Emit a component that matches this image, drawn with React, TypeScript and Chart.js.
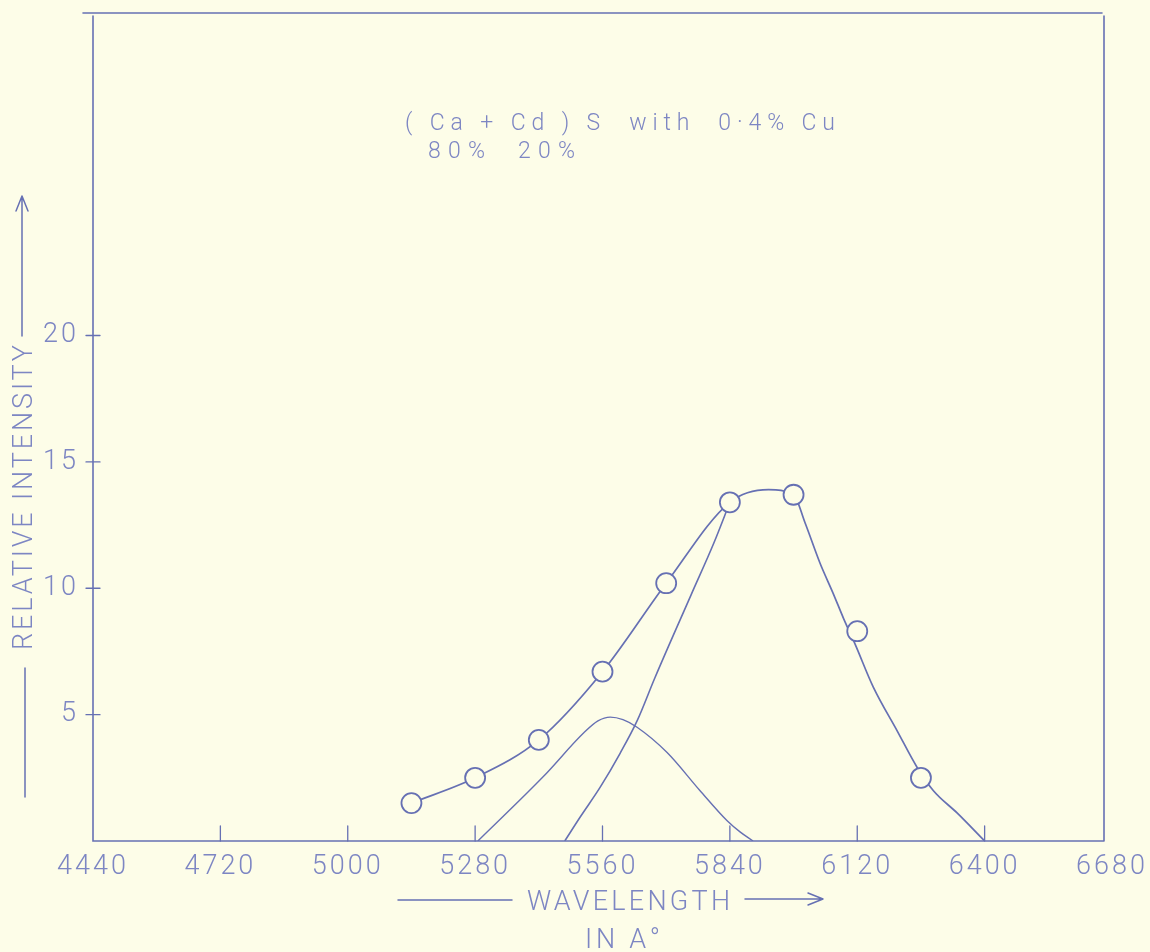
import { useEffect, useRef } from 'react';
import { Chart, registerables } from 'chart.js';

Chart.register(...registerables);

// ---- data ----
const xTickValues = [4440, 4720, 5000, 5280, 5560, 5840, 6120, 6400, 6680];
const yTickValues = [5, 10, 15, 20];

const measuredWavelength = [5140, 5280, 5420, 5560, 5700, 5840, 5980, 6120, 6260];
const measuredIntensity = [1.5, 2.5, 4.0, 6.7, 10.2, 13.4, 13.7, 8.3, 2.5];

const envelopeWavelength = [5140, 5280, 5420, 5560, 5700, 5840, 5925, 5980, 6005, 6038, 6067, 6090, 6115, 6155, 6208, 6252, 6287, 6340, 6400];
const envelopeIntensity = [1.5, 2.5, 4.0, 6.7, 10.2, 13.4, 13.9, 13.7, 12.6, 11.0, 9.8, 8.8, 7.8, 6.1, 4.35, 2.9, 2.0, 1.1, 0];

const bandAWavelength = [5286, 5430, 5520, 5550, 5577, 5605, 5636, 5702, 5774, 5834, 5863, 5891];
const bandAIntensity = [0, 2.55, 4.3, 4.75, 4.9, 4.8, 4.5, 3.5, 2.0, 0.8, 0.35, 0];

const bandBWavelength = [5477, 5511, 5555, 5599, 5636, 5675, 5755, 5805, 5840];
const bandBIntensity = [0, 0.95, 2.13, 3.48, 4.75, 6.45, 9.75, 11.8, 13.4];

const titleLine1 = '( Ca + Cd ) S  with  0·4% Cu';
const titleLine2 = '80%  20%';
const yTitle = 'RELATIVE INTENSITY';
const xTitle = 'WAVELENGTH';
const xUnit = 'IN A°';

// ---- styles ----
const paper = '#fdfde8';
const ink = '#6670b3';
const inkLight = '#7d86c3';
const FONT = 'Roboto, "DejaVu Sans", sans-serif';

const pts = (xs: number[], ys: number[]) => xs.map((x, i) => ({ x, y: ys[i] }));

function fitText(ctx: CanvasRenderingContext2D, text: string, x: number, y: number, width: number) {
  (ctx as any).letterSpacing = '0px';
  const w = ctx.measureText(text).width;
  const n = Array.from(text).length;
  const ls = n > 1 ? (width - w) / (n - 1) : 0;
  (ctx as any).letterSpacing = `${ls}px`;
  ctx.textAlign = 'left';
  ctx.fillText(text, x, y);
}

const decor = {
  id: 'decor',
  beforeDraw(chart: any) {
    const { ctx, width, height } = chart;
    ctx.save();
    ctx.fillStyle = paper;
    ctx.fillRect(0, 0, width, height);
    ctx.restore();
    ctx.letterSpacing = '3px';
  },
  afterDraw(chart: any) {
    const { ctx, chartArea } = chart;
    const { left, right, top, bottom } = chartArea;
    const xs = chart.scales.x;
    const ys = chart.scales.y;
    ctx.save();
    ctx.strokeStyle = ink;
    ctx.lineWidth = 1.6;
    ctx.lineCap = 'round';
    // frame
    ctx.beginPath();
    ctx.moveTo(left - 10, top + 1);
    ctx.lineTo(right - 10, top + 1);
    ctx.moveTo(right - 8, top + 4);
    ctx.lineTo(right - 8, bottom);
    ctx.moveTo(left, top + 4);
    ctx.lineTo(left, bottom);
    ctx.lineTo(right - 8, bottom);
    ctx.stroke();
    // ticks
    ctx.lineWidth = 1.3;
    ctx.beginPath();
    xTickValues.slice(1, -1).forEach((v) => {
      const px = xs.getPixelForValue(v);
      ctx.moveTo(px, bottom);
      ctx.lineTo(px, bottom - 15);
    });
    yTickValues.forEach((v) => {
      const py = ys.getPixelForValue(v);
      ctx.moveTo(left - 7, py);
      ctx.lineTo(left + 7, py);
    });
    ctx.stroke();

    // titles
    ctx.fillStyle = inkLight;
    ctx.textBaseline = 'alphabetic';
    ctx.font = `300 23px ${FONT}`;
    fitText(ctx, titleLine1, 405, 130, 430);
    fitText(ctx, titleLine2, 428, 158, 147);

    ctx.font = `300 27px ${FONT}`;
    fitText(ctx, xTitle, 527, 910, 203);
    fitText(ctx, xUnit, 585, 948, 75);

    // x title arrows
    ctx.strokeStyle = ink;
    ctx.lineWidth = 1.5;
    ctx.beginPath();
    ctx.moveTo(398, 900);
    ctx.lineTo(512, 900);
    ctx.moveTo(745, 899);
    ctx.lineTo(823, 899);
    ctx.moveTo(823, 899);
    ctx.lineTo(808, 893);
    ctx.moveTo(823, 899);
    ctx.lineTo(808, 905);
    ctx.stroke();

    // y title
    ctx.save();
    ctx.translate(32, 650);
    ctx.rotate(-Math.PI / 2);
    fitText(ctx, yTitle, 0, 0, 305);
    ctx.restore();
    ctx.beginPath();
    ctx.moveTo(25, 797);
    ctx.lineTo(25, 668);
    ctx.moveTo(22, 336);
    ctx.lineTo(22, 196);
    ctx.moveTo(22, 196);
    ctx.lineTo(16, 211);
    ctx.moveTo(22, 196);
    ctx.lineTo(28, 211);
    ctx.stroke();
    ctx.restore();
  },
};

export default function App() {
  const ref = useRef<HTMLCanvasElement>(null);
  useEffect(() => {
    document.body.style.margin = '0';
    document.body.style.background = paper;
    const chart = new Chart(ref.current as HTMLCanvasElement, {
      type: 'line',
      data: {
        datasets: [
          {
            label: 'Measured',
            data: pts(measuredWavelength, measuredIntensity),
            showLine: false,
            pointRadius: 10,
            pointBorderWidth: 1.8,
            pointBorderColor: ink,
            pointBackgroundColor: paper,
            order: 0,
          },
          {
            label: 'Envelope',
            data: pts(envelopeWavelength, envelopeIntensity),
            borderColor: ink,
            borderWidth: 1.7,
            pointRadius: 0,
            cubicInterpolationMode: 'monotone',
            order: 1,
          },
          {
            label: 'Band A',
            data: pts(bandAWavelength, bandAIntensity),
            borderColor: ink,
            borderWidth: 1.4,
            pointRadius: 0,
            cubicInterpolationMode: 'monotone',
            order: 2,
          },
          {
            label: 'Band B',
            data: pts(bandBWavelength, bandBIntensity),
            borderColor: ink,
            borderWidth: 1.6,
            pointRadius: 0,
            cubicInterpolationMode: 'monotone',
            order: 3,
          },
        ],
      },
      options: {
        responsive: false,
        animation: false,
        devicePixelRatio: 1,
        layout: { padding: { top: 12, right: 38, left: 0, bottom: 0 } },
        plugins: { legend: { display: false }, tooltip: { enabled: false } },
        scales: {
          x: {
            type: 'linear',
            min: 4440,
            max: 6680,
            afterBuildTicks: (s: any) => {
              s.ticks = xTickValues.map((value) => ({ value }));
            },
            afterFit: (s: any) => {
              s.height = 111;
              s.paddingLeft = 0;
              s.paddingRight = 0;
            },
            grid: { display: false, drawTicks: false },
            border: { display: false },
            ticks: {
              color: inkLight,
              font: { family: FONT, size: 27, weight: '300' },
              padding: 10,
              maxRotation: 0,
              autoSkip: false,
              callback: (v: any) => String(v),
            },
          },
          y: {
            type: 'linear',
            min: 0,
            max: 32.8,
            afterBuildTicks: (s: any) => {
              s.ticks = yTickValues.map((value) => ({ value }));
            },
            afterFit: (s: any) => {
              s.width = 93;
              s.paddingTop = 0;
              s.paddingBottom = 0;
            },
            grid: { display: false, drawTicks: false },
            border: { display: false },
            ticks: {
              color: inkLight,
              font: { family: FONT, size: 27, weight: '300' },
              padding: 14,
              autoSkip: false,
              callback: (v: any) => String(v),
            },
          },
        },
      } as any,
      plugins: [decor],
    });
    return () => chart.destroy();
  }, []);
  return (
    <div style={{ width: 1150, height: 952, background: paper }}>
      <canvas ref={ref} width={1150} height={952} style={{ display: 'block', width: 1150, height: 952 }} />
    </div>
  );
}
